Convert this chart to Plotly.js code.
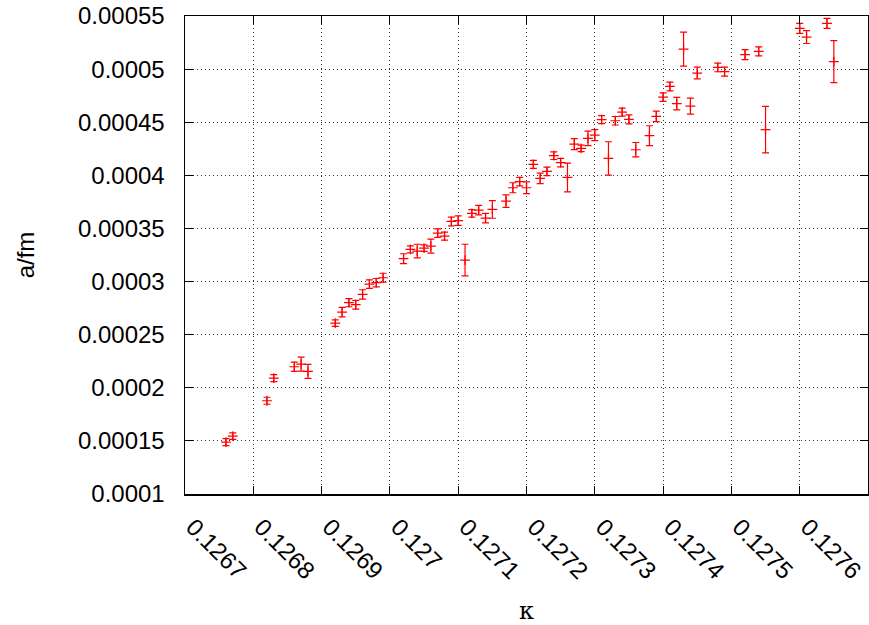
<!DOCTYPE html>
<html>
<head>
<meta charset="utf-8">
<script src="https://cdn.plot.ly/plotly-3.0.1.min.js"></script>
<style>
  html, body { margin: 0; padding: 0; background: #fff; }
  #plot { width: 869px; height: 625px; }
</style>
</head>
<body>
<div id="plot"></div>
<script>
// hopping parameter kappa
const kappa = [
  0.12676, 0.12677, 0.12682, 0.12683, 0.12686, 0.12687, 0.12688, 0.12692, 0.12693, 0.12694,
  0.12695, 0.12696, 0.12697, 0.12698, 0.12699,
  0.12702, 0.12703, 0.12704, 0.12705, 0.12706, 0.12707, 0.12708, 0.12709, 0.12710, 0.12711,
  0.12712, 0.12713, 0.12714, 0.12715, 0.12717, 0.12718, 0.12719, 0.12720, 0.12721, 0.12722,
  0.12723, 0.12724, 0.12725, 0.12726,
  0.12727, 0.12728, 0.12729, 0.12730, 0.12731, 0.12732, 0.12733, 0.12734, 0.12735, 0.12736,
  0.12738, 0.12739, 0.12740, 0.12741, 0.12742, 0.12743, 0.12744, 0.12745, 0.12748, 0.12749,
  0.12752, 0.12754, 0.12755, 0.12760, 0.12761, 0.12764, 0.12765
];

// lattice spacing a in fm
const aFm = [
  0.0001488, 0.0001545, 0.0001878, 0.0002091, 0.0002198, 0.0002223, 0.0002154, 0.0002609, 0.0002712, 0.0002801,
  0.0002782, 0.0002879, 0.0002976, 0.0002989, 0.0003036,
  0.0003215, 0.0003303, 0.0003287, 0.0003315, 0.0003334, 0.0003456, 0.0003428, 0.0003566, 0.0003573, 0.0003202,
  0.0003642, 0.0003673, 0.0003597, 0.0003679, 0.0003757, 0.0003883, 0.0003940, 0.0003883, 0.0004103, 0.0003971,
  0.0004037, 0.0004185, 0.0004119, 0.0003980,
  0.0004294, 0.0004254, 0.0004348, 0.0004379, 0.0004524, 0.0004159, 0.0004514, 0.0004595, 0.0004527, 0.0004241,
  0.0004373, 0.0004555, 0.0004737, 0.0004837, 0.0004675, 0.0005189, 0.0004652, 0.0004963, 0.0005016, 0.0004976,
  0.0005136, 0.0005167, 0.0004430, 0.0005384, 0.0005302, 0.0005431, 0.0005070
];

// statistical uncertainty of a
const aErr = [
  3.3e-6, 3.1e-6, 3.3e-6, 3.3e-6, 4.4e-6, 6.6e-6, 6.6e-6, 3.1e-6, 4.4e-6, 3.8e-6,
  4.1e-6, 4.4e-6, 4.0e-6, 4.0e-6, 4.2e-6,
  4.7e-6, 3.3e-6, 6.4e-6, 3.1e-6, 6.6e-6, 4.0e-6, 3.8e-6, 4.1e-6, 4.5e-6, 14.9e-6,
  3.5e-6, 4.5e-6, 4.4e-6, 8.3e-6, 5.9e-6, 4.7e-6, 4.0e-6, 5.5e-6, 3.8e-6, 5.0e-6,
  4.0e-6, 3.6e-6, 4.0e-6, 13.5e-6,
  5.2e-6, 3.1e-6, 6.9e-6, 5.2e-6, 3.8e-6, 15.7e-6, 4.0e-6, 3.8e-6, 4.2e-6, 6.8e-6,
  9.4e-6, 5.0e-6, 4.0e-6, 4.1e-6, 5.8e-6, 16.0e-6, 7.5e-6, 5.5e-6, 4.1e-6, 4.2e-6,
  4.7e-6, 4.2e-6, 21.9e-6, 4.7e-6, 6.1e-6, 4.7e-6, 19.8e-6
];

const xTickVals = [0.1267, 0.1268, 0.1269, 0.1270, 0.1271, 0.1272, 0.1273, 0.1274, 0.1275, 0.1276];
const xTickText = ["0.1267", "0.1268", "0.1269", "0.127", "0.1271", "0.1272", "0.1273", "0.1274", "0.1275", "0.1276"];
const yTickVals = [0.0001, 0.00015, 0.0002, 0.00025, 0.0003, 0.00035, 0.0004, 0.00045, 0.0005, 0.00055];
const yTickText = ["0.0001", "0.00015", "0.0002", "0.00025", "0.0003", "0.00035", "0.0004", "0.00045", "0.0005", "0.00055"];

const RED = "#ff0000";
const FONT = "Liberation Sans, Arial, Helvetica, sans-serif";

const trace = {
  x: kappa,
  y: aFm,
  type: "scatter",
  mode: "markers",
  marker: { symbol: "cross-thin", size: 7, color: RED, line: { color: RED, width: 1.2 } },
  error_y: { type: "data", array: aErr, visible: true, color: RED, thickness: 1.2, width: 3.5 },
  showlegend: false,
  hoverinfo: "x+y"
};

const axisCommon = {
  showline: true,
  linecolor: "#000",
  linewidth: 1.5,
  mirror: "ticks",
  ticks: "inside",
  ticklen: 8,
  tickwidth: 1,
  tickcolor: "#000",
  showgrid: true,
  gridcolor: "#333",
  griddash: "1px,3px",
  gridwidth: 1,
  zeroline: false,
  tickfont: { family: FONT, size: 24, color: "#000" }
};

const layout = {
  width: 869,
  height: 625,
  margin: { l: 185, r: 1, t: 16, b: 131, pad: 0 },
  paper_bgcolor: "#fff",
  plot_bgcolor: "#fff",
  font: { family: FONT, size: 24, color: "#000" },
  xaxis: Object.assign({}, axisCommon, {
    range: [0.1267, 0.1277],
    tickmode: "array",
    tickvals: xTickVals,
    ticktext: xTickText,
    tickangle: 45,
    ticklabelstandoff: 8,
    ticklabelshift: 8,
    title: { text: "κ", font: { family: "DejaVu Serif, serif", size: 24, color: "#000" }, standoff: 20 }
  }),
  yaxis: Object.assign({}, axisCommon, {
    range: [0.0001, 0.00055],
    tickmode: "array",
    tickvals: yTickVals,
    ticktext: yTickText,
    ticklabelstandoff: 14,
    title: { text: "a/fm", font: { family: FONT, size: 24, color: "#000" }, standoff: 36 }
  })
};

Plotly.newPlot("plot", [trace], layout, { displayModeBar: false, staticPlot: true });
</script>
</body>
</html>
